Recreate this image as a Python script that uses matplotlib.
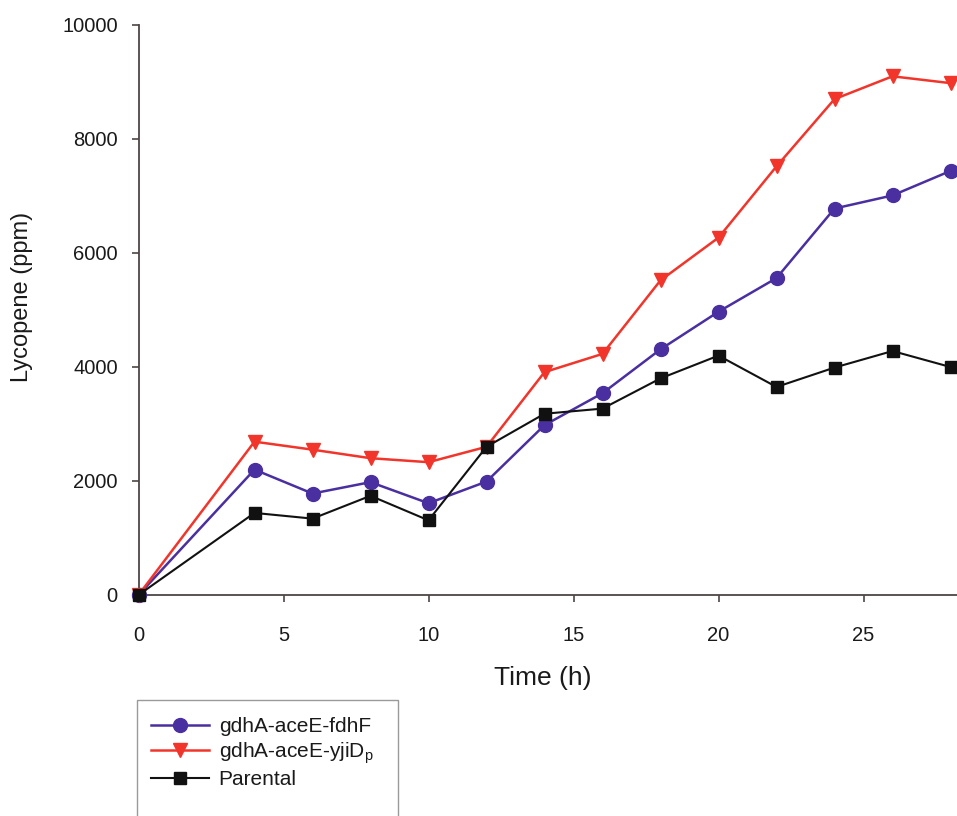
import matplotlib
matplotlib.use('Agg')
import matplotlib.pyplot as plt
from matplotlib.patches import Rectangle

plt.rcParams['font.family'] = ['Liberation Sans', 'DejaVu Sans']
plt.rcParams['mathtext.fontset'] = 'custom'
plt.rcParams['mathtext.rm'] = 'Liberation Sans'

# sampling times (h) and lycopene titres (ppm)
time_h = [0, 4, 6, 8, 10, 12, 14, 16, 18, 20, 22, 24, 26, 28]
fdhf = [0, 2200, 1780, 1980, 1610, 1990, 2980, 3540, 4310, 4970, 5560, 6780, 7010, 7440]
yjid = [0, 2690, 2550, 2400, 2330, 2600, 3910, 4230, 5520, 6270, 7520, 8700, 9100, 8980]
parental = [0, 1440, 1340, 1740, 1310, 2600, 3180, 3270, 3800, 4200, 3650, 3990, 4280, 4000]

labels = ['gdhA-aceE-fdhF', 'gdhA-aceE-yjiD$_\\mathregular{p}$', 'Parental']
colors = ['#4a2fa0', '#f2352b', '#111111']

W, H = 957, 816
fig = plt.figure(figsize=(W / 100, H / 100), dpi=100)
ax = fig.add_axes([138.5 / W, 1 - 595 / H, (W - 138.5) / W, 570 / H])

ax.plot(time_h, fdhf, color=colors[0], lw=1.8, marker='o', ms=10, label=labels[0], clip_on=False, zorder=3)
ax.plot(time_h, yjid, color=colors[1], lw=1.8, marker='v', ms=9.5, label=labels[1], clip_on=False, zorder=3)
ax.plot(time_h, parental, color=colors[2], lw=1.5, marker='s', ms=9, label=labels[2], clip_on=False, zorder=4)

ax.set_xlim(0, (W - 138.5) / 29)
ax.set_ylim(0, 10000)
ax.set_xticks([0, 5, 10, 15, 20, 25])
ax.set_yticks([0, 2000, 4000, 6000, 8000, 10000])
for s in ['top', 'right']:
    ax.spines[s].set_visible(False)
for s in ['left', 'bottom']:
    ax.spines[s].set_color('#4d4545')
    ax.spines[s].set_linewidth(1.3)
ax.tick_params(direction='out', length=5, width=1.2, color='#4d4545',
               labelsize=14.5, labelcolor='#1a1a1a')
ax.tick_params(axis='x', pad=17)
ax.tick_params(axis='y', pad=10)

fig.text(22 / W, 1 - 297 / H, 'Lycopene (ppm)', rotation=90, ha='center', va='center',
         fontsize=17, color='#1a1a1a')
fig.text(543 / W, 1 - 678 / H, 'Time (h)', ha='center', va='center',
         fontsize=19, color='#1a1a1a')

# legend box runs past the bottom edge
fig.patches.append(Rectangle((137 / W, -0.05), (398 - 137) / W, (816 - 700) / H + 0.05,
                             transform=fig.transFigure, fill=False, edgecolor='#9a9a9a', lw=1.0))
handles, _ = ax.get_legend_handles_labels()
fig.legend(handles, labels, loc='upper left', bbox_to_anchor=(151 / W, 1 - 717 / H),
           frameon=False, fontsize=15, handlelength=2.8, handletextpad=0.45,
           labelspacing=0.2, borderpad=0.0, borderaxespad=0.0, labelcolor='#1a1a1a')

fig.savefig('out.png', dpi=100)
